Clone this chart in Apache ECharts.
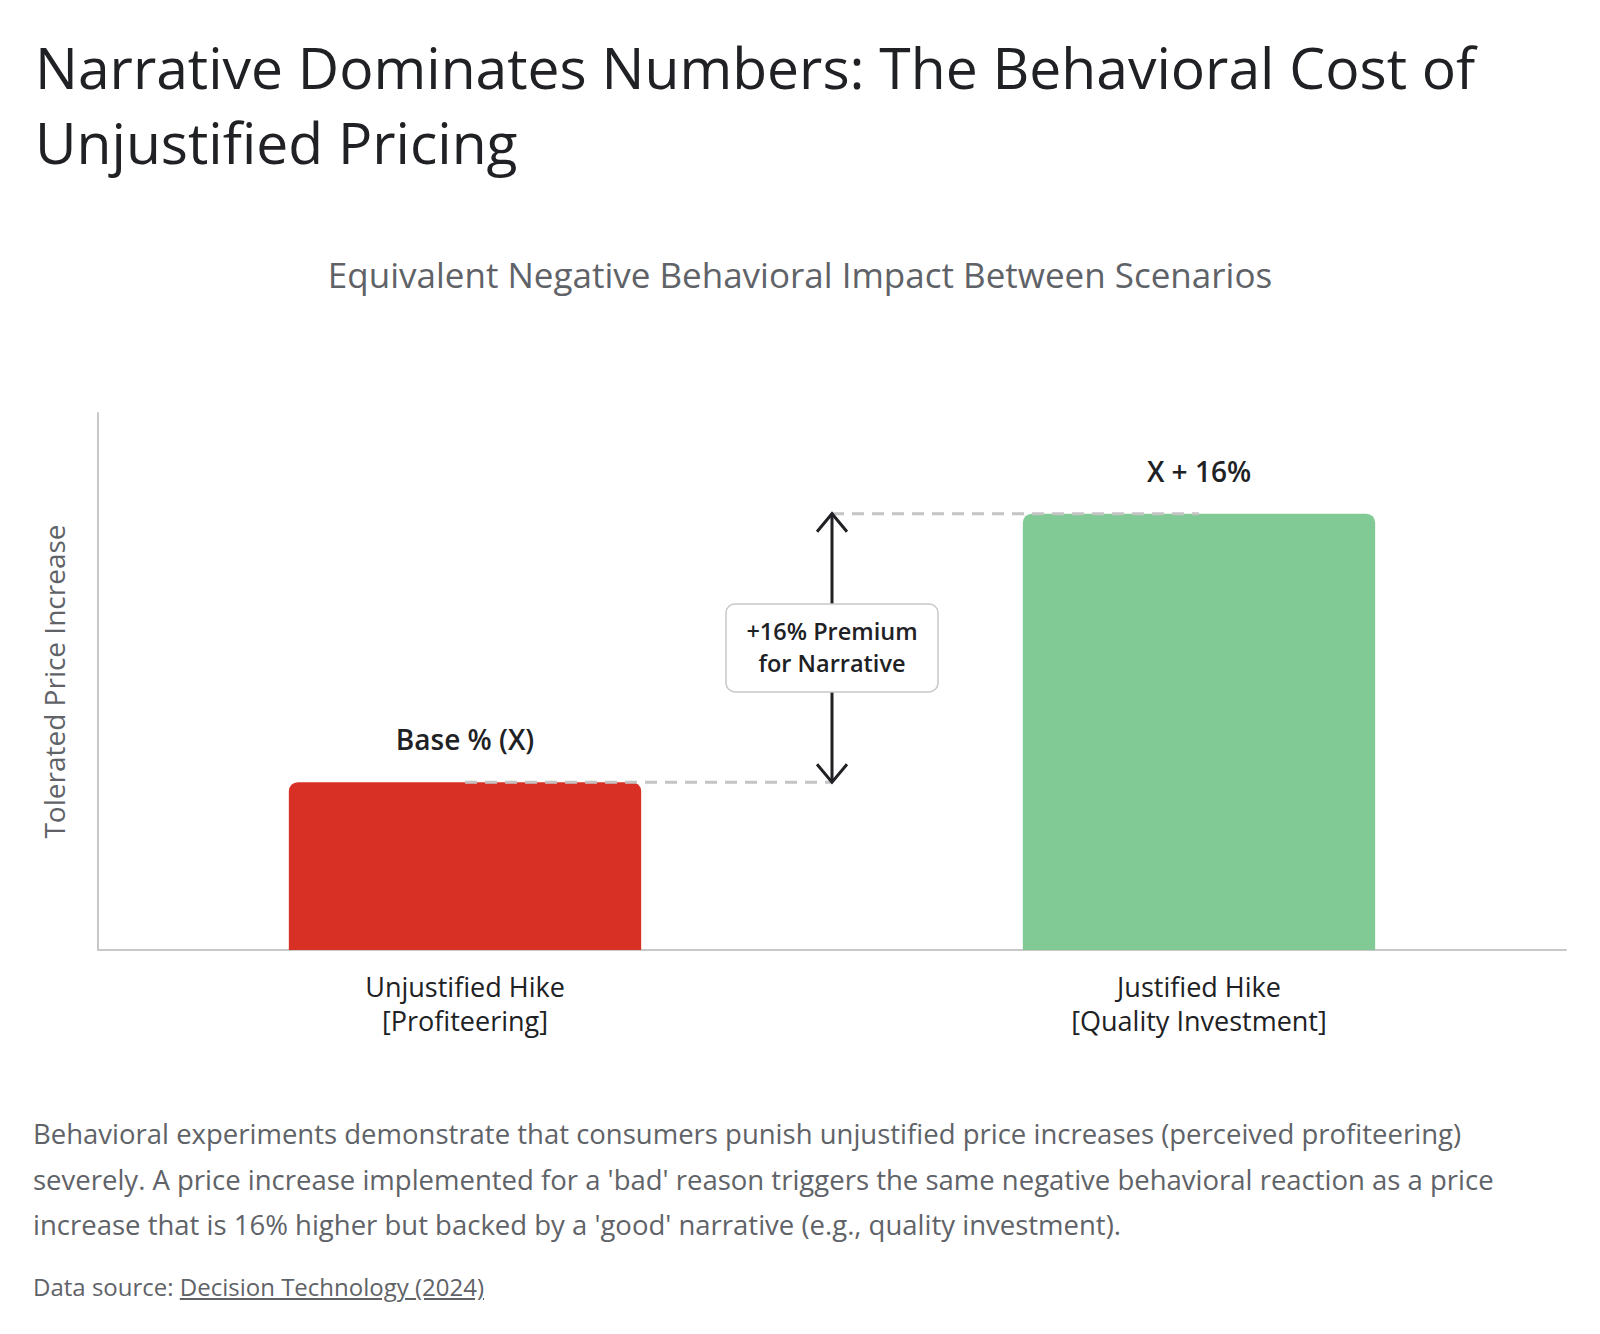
<!DOCTYPE html>
<html>
<head>
<meta charset="utf-8">
<script src="https://cdn.jsdelivr.net/npm/echarts@6/dist/echarts.min.js"></script>
<style>
  html, body { margin: 0; padding: 0; background: #fff; }
  #chart { position: absolute; left: 0; top: 0; width: 1600px; height: 1334px; }
  .desc { position: absolute; left: 33px; top: 1111px; width: 1560px; font-family: "Open Sans", sans-serif; font-size: 27.5px; line-height: 45.5px; color: #5f6368; white-space: nowrap; }
  .src { position: absolute; left: 33px; top: 1270px; font-family: "Open Sans", sans-serif; font-size: 24px; color: #5f6368; }
  .src a { color: #5f6368; text-decoration: underline; }
</style>
</head>
<body>
<div id="chart"></div>
<div class="desc" id="desc"></div>
<div class="src" id="src"></div>
<script>
const titleText = 'Narrative Dominates Numbers: The Behavioral Cost of\nUnjustified Pricing';
const subtitleText = 'Equivalent Negative Behavioral Impact Between Scenarios';
const categories = ['Unjustified Hike\n[Profiteering]', 'Justified Hike\n[Quality Investment]'];
const values = [10, 26];
const barLabels = ['Base % (X)', 'X + 16%'];
const barColors = ['#d93025', '#81c995'];
const premiumLabel = '+16% Premium\nfor Narrative';
const yAxisName = 'Tolerated Price Increase';
const yMax = 32;
const descriptionLines = [
  'Behavioral experiments demonstrate that consumers punish unjustified price increases (perceived profiteering)',
  "severely. A price increase implemented for a 'bad' reason triggers the same negative behavioral reaction as a price",
  "increase that is 16% higher but backed by a 'good' narrative (e.g., quality investment)."
];
const sourcePrefix = 'Data source: ';
const sourceName = 'Decision Technology (2024)';

document.getElementById('desc').innerHTML = descriptionLines.join('<br>');
document.getElementById('src').innerHTML = sourcePrefix + '<a>' + sourceName + '</a>';

const FONT = '"Open Sans", sans-serif';
const chart = echarts.init(document.getElementById('chart'), null, { renderer: 'svg' });

chart.setOption({
  animation: false,
  backgroundColor: '#fff',
  title: [
    {
      text: titleText, left: 30, top: 24,
      textStyle: { fontFamily: FONT, fontSize: 57, fontWeight: 'normal', color: '#202124', lineHeight: 75 }
    },
    {
      text: subtitleText, left: 'center', top: 252,
      textStyle: { fontFamily: FONT, fontSize: 35, fontWeight: 'normal', color: '#5f6368' }
    }
  ],
  grid: { left: 98, right: 34, top: 413, bottom: 384 },
  xAxis: [
    {
      type: 'category', data: categories,
      axisLine: { lineStyle: { color: '#c8c8c8', width: 2 } },
      axisTick: { show: false },
      axisLabel: { fontFamily: FONT, fontSize: 27, color: '#202124', lineHeight: 34, margin: 19 }
    },
    { type: 'value', min: 0, max: 2, show: false }
  ],
  yAxis: {
    type: 'value', min: 0, max: yMax,
    name: yAxisName, nameLocation: 'middle', nameGap: 30, nameRotate: 90,
    nameTextStyle: { fontFamily: FONT, fontSize: 28, color: '#5f6368' },
    axisLine: { show: true, lineStyle: { color: '#c8c8c8', width: 2 } },
    axisTick: { show: false }, axisLabel: { show: false }, splitLine: { show: false }
  },
  series: [
    {
      type: 'bar', barWidth: '48%',
      data: values.map((v, i) => ({ value: v, itemStyle: { color: barColors[i], borderRadius: [9, 9, 0, 0] } })),
      label: {
        show: true, position: 'top', distance: 29,
        formatter: p => barLabels[p.dataIndex],
        fontFamily: FONT, fontSize: 28, fontWeight: 600, color: '#202124'
      },
      z: 2
    },
    {
      type: 'custom', xAxisIndex: 1, yAxisIndex: 0, z: 5,
      data: [[1, values[0], values[1]]],
      renderItem: function (params, api) {
        const xm = api.value(0), lo = api.value(1), hi = api.value(2);
        const p0 = api.coord([0.5, lo]);
        const pA = api.coord([xm, lo]);
        const pB = api.coord([xm, hi]);
        const p1 = api.coord([1.5, hi]);
        const pc = api.coord([xm, (lo + hi) / 2]);
        const dash = { stroke: '#c4c4c4', lineWidth: 3, lineDash: [12, 8] };
        const arrow = { stroke: '#202124', lineWidth: 3, fill: null };
        const bw = 212, bh = 88;
        return {
          type: 'group',
          children: [
            { type: 'line', shape: { x1: p0[0], y1: p0[1], x2: pA[0], y2: pA[1] }, style: dash },
            { type: 'line', shape: { x1: pB[0], y1: pB[1], x2: p1[0], y2: p1[1] }, style: dash },
            { type: 'line', shape: { x1: pA[0], y1: pA[1], x2: pB[0], y2: pB[1] }, style: arrow },
            { type: 'polyline', shape: { points: [[pB[0] - 15, pB[1] + 18], [pB[0], pB[1]], [pB[0] + 15, pB[1] + 18]] }, style: arrow },
            { type: 'polyline', shape: { points: [[pA[0] - 15, pA[1] - 18], [pA[0], pA[1]], [pA[0] + 15, pA[1] - 18]] }, style: arrow },
            {
              type: 'rect',
              shape: { x: pc[0] - bw / 2, y: pc[1] - bh / 2, width: bw, height: bh, r: 9 },
              style: { fill: '#fff', stroke: '#c8c8c8', lineWidth: 1.5 }
            },
            {
              type: 'text', x: pc[0], y: pc[1] - 1,
              style: {
                text: premiumLabel, align: 'center', verticalAlign: 'middle',
                fontFamily: FONT, fontSize: 23.5, fontWeight: 600, fill: '#202124', lineHeight: 32
              }
            }
          ]
        };
      }
    }
  ]
});
</script>
</body>
</html>
